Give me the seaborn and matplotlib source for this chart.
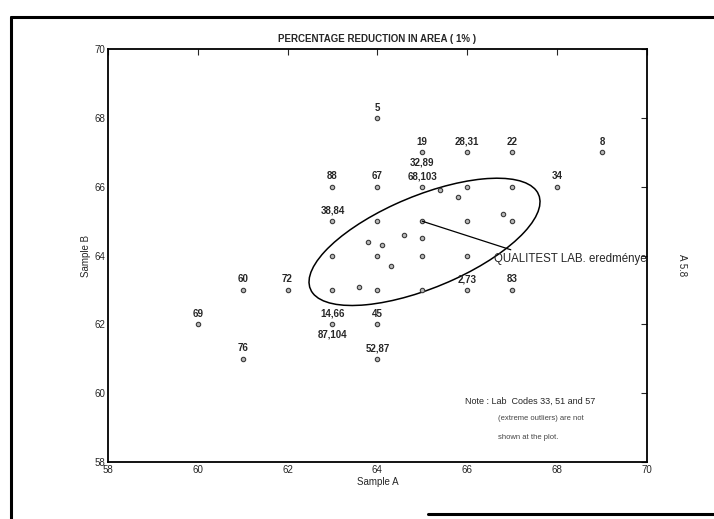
import matplotlib
matplotlib.use("Agg")
import matplotlib.pyplot as plt
import seaborn as sns
from matplotlib.patches import Ellipse
from matplotlib.lines import Line2D

# labelled laboratories (label above the point)
lab_x = [64.0, 65.0, 66.0, 67.0, 69.0, 63.0, 64.0, 65.0, 68.0, 63.0,
         61.0, 62.0, 60.0, 61.0, 63.0, 64.0, 64.0, 66.0, 67.0]
lab_y = [68.0, 67.0, 67.0, 67.0, 67.0, 66.0, 66.0, 66.0, 66.0, 65.0,
         63.0, 63.0, 62.0, 61.0, 62.0, 62.0, 61.0, 63.0, 63.0]
lab_txt = ["5", "19", "28,31", "22", "8", "88", "67", "68,103", "34", "38,84",
           "60", "72", "69", "76", "14,66", "45", "52,87", "2,73", "83"]

# second labels: stacked above / below a point
top_x, top_y, top_txt = [65.0], [66.0], ["32,89"]
low_x, low_y, low_txt = [63.0], [62.0], ["87,104"]

# unlabelled points (mostly inside the ellipse)
pt_x = [65.4, 66.0, 67.0, 65.8, 64.0, 65.0, 66.0, 66.8, 67.0, 64.6,
        65.0, 63.8, 64.1, 63.0, 64.0, 65.0, 66.0, 64.3, 63.0, 63.6,
        64.0, 65.0]
pt_y = [65.9, 66.0, 66.0, 65.7, 65.0, 65.0, 65.0, 65.2, 65.0, 64.6,
        64.5, 64.4, 64.3, 64.0, 64.0, 64.0, 64.0, 63.7, 63.0, 63.1,
        63.0, 63.0]

# QUALITEST result
own_x, own_y = 65.0, 65.0

# confidence ellipse (centre, axes, angle)
ell_c = (65.05, 64.4)
ell_w, ell_h, ell_ang = 5.8, 2.55, 31.0

sns.set_style("white")
plt.rcParams["font.family"] = ["Liberation Sans Narrow", "Liberation Sans", "DejaVu Sans"]

fig = plt.figure(figsize=(7.14, 5.19), dpi=100)
ax = fig.add_axes([0.151, 0.11, 0.755, 0.795])

all_x = lab_x + pt_x
all_y = lab_y + pt_y
sns.scatterplot(x=all_x, y=all_y, ax=ax, s=10, color="#b8b8b8",
                edgecolor="#3a3a3a", linewidth=0.8, zorder=3)

for x, y, t in zip(lab_x, lab_y, lab_txt):
    ax.annotate(t, (x, y), xytext=(0, 4), textcoords="offset points",
                ha="center", va="bottom", fontsize=7, fontweight="bold")
for x, y, t in zip(top_x, top_y, top_txt):
    ax.annotate(t, (x, y), xytext=(0, 14), textcoords="offset points",
                ha="center", va="bottom", fontsize=7, fontweight="bold")
for x, y, t in zip(low_x, low_y, low_txt):
    ax.annotate(t, (x, y), xytext=(0, -4), textcoords="offset points",
                ha="center", va="top", fontsize=7, fontweight="bold")

ax.add_patch(Ellipse(ell_c, ell_w, ell_h, angle=ell_ang, fill=False,
                     edgecolor="black", lw=1.1, zorder=2))

ax.annotate("QUALITEST LAB. eredménye", xy=(own_x, own_y), xytext=(66.6, 63.9),
            fontsize=8.3, va="center", ha="left",
            arrowprops=dict(arrowstyle="-", color="black", lw=0.9,
                            shrinkA=0, shrinkB=0, relpos=(0.2, 0.9)))

ax.text(0.662, 0.148, "Note : Lab  Codes 33, 51 and 57", transform=ax.transAxes,
        fontsize=6.5, va="center")
ax.text(0.724, 0.105, "(extreme outliers) are not", transform=ax.transAxes,
        fontsize=5.5, va="center", color="#444444")
ax.text(0.724, 0.06, "shown at the plot.", transform=ax.transAxes,
        fontsize=5.5, va="center", color="#444444")

ax.set_xlim(58, 70)
ax.set_ylim(58, 70)
ax.set_xticks(range(58, 71, 2))
ax.set_yticks(range(58, 71, 2))
ax.tick_params(direction="in", top=True, right=True, labelsize=7,
               length=4, width=0.8, pad=2)
for s in ax.spines.values():
    s.set_linewidth(1.3)
    s.set_color("black")

ax.set_title("PERCENTAGE REDUCTION IN AREA ( 1% )", fontsize=7,
             fontweight="bold", pad=5)
ax.set_xlabel("Sample A", fontsize=7, labelpad=2)
ax.set_ylabel("Sample B", fontsize=7, labelpad=2)

fig.text(0.955, 0.49, "A 5.8", rotation=270, fontsize=7, ha="center", va="center")

# scanned page border
fig.add_artist(Line2D([0.016, 0.016], [0.0, 0.967], color="black", lw=2.2,
                      transform=fig.transFigure))
fig.add_artist(Line2D([0.016, 1.0], [0.967, 0.967], color="black", lw=2.2,
                      transform=fig.transFigure))
fig.add_artist(Line2D([0.6, 1.0], [0.01, 0.01], color="black", lw=2.2,
                      transform=fig.transFigure))

fig.savefig("out.png", dpi=100)
